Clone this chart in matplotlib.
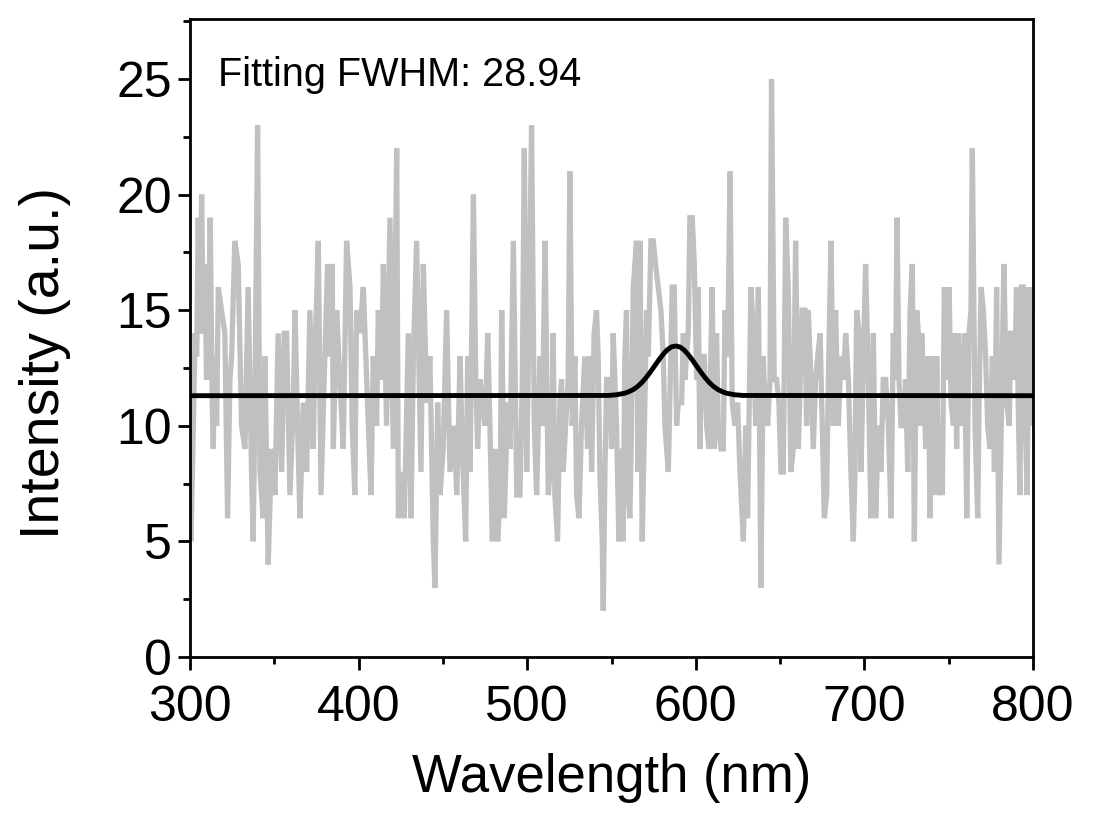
import matplotlib
matplotlib.use('Agg')
import matplotlib.pyplot as plt
from matplotlib.ticker import MultipleLocator

plt.rcParams['font.family'] = ['Liberation Sans', 'DejaVu Sans']

# raw spectrum (nm, counts)
wavelength = [
    300.0, 300.6, 302.0, 303.0, 304.0, 304.9, 306.0, 306.9, 307.9, 308.9, 309.8, 310.8,
    312.0, 313.2, 313.8, 314.8, 315.8, 316.8, 318.7, 320.7, 322.3, 323.7, 324.7, 326.6,
    328.6, 330.6, 332.6, 334.5, 336.5, 337.5, 338.5, 340.1, 341.5, 343.4, 344.4, 346.4,
    348.4, 350.4, 352.3,
    354.4, 355.9, 357.3, 359.3, 361.3, 362.3, 363.8, 365.2, 367.2, 369.2, 371.1, 373.1,
    374.1, 376.1, 377.7, 380.0, 381.6, 383.0, 384.4, 385.0, 387.0, 388.9, 390.9, 392.9,
    394.9, 396.2, 397.8, 398.8, 400.8, 402.8,
    405.8, 407.4, 408.7, 410.7, 411.7, 413.7, 414.7, 416.6, 418.6, 420.6, 422.6, 423.6,
    425.5, 427.1, 429.5, 431.1, 432.5, 434.4, 437.0, 438.4, 440.4, 442.3, 444.3, 445.3,
    446.9, 448.3, 450.2, 452.2, 454.2, 456.8,
    458.2, 460.2, 461.5, 463.5, 464.7, 466.1, 468.1, 469.5, 470.6, 472.0, 473.4, 475.0,
    476.6, 477.9, 479.3, 480.9, 482.5, 483.9, 484.9, 486.4, 488.4, 489.8, 491.8, 493.8,
    495.7, 497.1, 498.3, 499.7, 501.1, 502.6, 504.2, 505.6, 507.6, 509.0, 510.6,
    512.5, 514.5, 515.4, 516.4, 518.0, 519.4, 520.4, 521.4, 522.8, 524.3, 525.3, 526.7,
    528.3, 529.3, 530.7, 532.2, 534.2, 535.8, 537.2, 538.2, 539.7, 541.1, 542.1, 543.1,
    544.5, 545.1, 546.1, 547.1, 549.0, 550.0, 551.0, 552.0, 553.0, 554.4, 556.0, 556.9,
    557.9, 558.9, 559.9, 560.9, 561.9, 562.9, 563.9, 564.8, 565.8,
    566.9, 568.2, 569.8, 570.8, 571.8, 573.4, 574.8, 576.1, 577.7, 579.3, 580.7, 581.7,
    583.7, 586.0, 587.2, 588.6, 589.6, 591.6, 592.6, 593.5, 595.5, 596.5, 597.9, 599.1,
    600.5, 601.4, 602.4, 603.4, 605.0, 606.4, 607.8, 609.7, 610.9, 612.3, 613.3, 614.9,
    616.3, 617.3,
    618.9, 620.3, 621.6, 623.2, 624.8, 626.2, 628.2, 629.6, 630.7, 632.7, 634.1, 635.5,
    637.1, 638.6, 640.0, 641.0, 642.6, 644.0, 644.9, 646.5, 647.9, 649.3, 650.5, 651.9,
    653.3, 654.8, 656.4, 657.8, 659.2, 660.8, 662.4, 663.1, 664.7, 665.7, 666.7, 668.3,
    669.7, 671.0,
    672.3, 673.7, 675.0, 676.2, 677.6, 678.6, 680.2, 681.6, 682.9, 684.5, 686.1, 687.5,
    688.9, 690.5, 692.0, 693.4, 694.4, 695.4, 696.8, 698.0, 699.4, 700.7, 702.3, 703.9,
    705.3, 706.7, 708.2, 709.8, 711.2, 712.6, 714.2, 715.8, 717.1, 718.5, 719.3, 720.5,
    721.7, 723.1, 724.4,
    725.7, 727.1, 728.4, 729.6, 731.0, 732.0, 733.0, 734.0, 735.0, 736.4, 737.9, 738.9,
    739.9, 741.9, 742.9, 743.9, 745.4, 746.2, 747.4, 748.8, 750.2, 751.4, 752.8, 753.7,
    754.7, 755.7, 756.7, 758.1, 759.3, 760.7, 762.0, 763.2, 764.0, 765.6, 767.2, 768.0,
    769.2, 770.5, 771.9, 773.1, 774.5, 775.9, 777.1, 778.4, 779.8,
    782.7, 784.3, 785.9, 786.7, 788.2, 789.2, 790.2, 791.2, 792.2, 793.2, 794.2, 795.1,
    796.5, 797.7, 799.1, 800.0,
]
intensity = [
    9, 5, 10, 14, 13, 19, 14, 20, 14, 17, 12, 13,
    19, 11, 9, 13, 10, 16, 15, 14, 6, 12, 13, 18,
    17, 10, 9, 16, 8, 5, 11, 23, 8, 6, 13, 4,
    9, 7, 14,
    8, 14, 14, 7, 11, 15, 10, 6, 11, 8, 15, 9,
    13, 18, 7, 13, 17, 13, 17, 9, 15, 12, 9, 18,
    16, 10, 7, 15, 14, 16,
    10, 7, 13, 10, 15, 12, 17, 10, 19, 9, 22, 6,
    8, 6, 14, 6, 13, 18, 8, 17, 11, 13, 5, 3,
    11, 7, 9, 15, 8, 10,
    7, 13, 9, 5, 13, 8, 20, 12, 9, 12, 11, 10,
    14, 10, 5, 9, 5, 7, 15, 6, 11, 9, 18, 7,
    7, 12, 22, 8, 15, 23, 10, 7, 13, 10, 18,
    7, 9, 14, 7, 5, 11, 12, 8, 10, 12, 21, 10,
    13, 7, 6, 10, 13, 9, 13, 8, 14, 15, 13, 8,
    5, 2, 8, 12, 12, 9, 14, 12, 10, 5, 9, 5,
    13, 15, 7, 6, 10, 16, 17, 18, 8,
    18, 5, 11, 15, 13, 18, 18, 17, 16, 15, 13, 10,
    8, 16, 16, 10, 11, 11, 14, 12, 14, 19, 19, 17,
    12, 16, 9, 13, 13, 10, 9, 16, 9, 14, 10, 9,
    9, 15,
    13, 21, 11, 10, 11, 8, 5, 10, 6, 16, 14, 10,
    16, 3, 13, 11, 10, 12, 25, 12, 12, 11, 8, 8,
    19, 16, 8, 9, 18, 9, 13, 15, 15, 10, 15, 12,
    9, 12,
    13, 14, 10, 6, 7, 12, 18, 10, 15, 10, 13, 12,
    14, 12, 8, 5, 8, 15, 14, 8, 13, 17, 12, 6,
    14, 6, 10, 8, 12, 12, 10, 6, 14, 12, 19, 12,
    10, 10, 12,
    8, 15, 17, 5, 15, 14, 10, 14, 12, 9, 13, 6,
    13, 7, 13, 7, 8, 7, 16, 12, 16, 11, 10, 14,
    9, 14, 10, 11, 14, 6, 14, 15, 22, 10, 6, 11,
    16, 15, 13, 10, 9, 13, 8, 16, 4,
    17, 11, 10, 14, 14, 12, 16, 11, 7, 16, 16, 11,
    7, 16, 10, 14,
]

# Gaussian fit curve
fit_wl = [300, 548, 553, 558, 560.5, 563, 565.5, 568, 570.5, 573, 575.5, 578, 580.5,
          583, 585.5, 588, 590.5, 593, 595.5, 598, 600.5, 603, 605.5, 608, 610.5,
          613, 615.5, 618, 623, 628, 800]
fit_int = [11.3, 11.31, 11.34, 11.41, 11.48, 11.57, 11.70, 11.87, 12.08, 12.32, 12.58,
           12.84, 13.08, 13.28, 13.41, 13.45, 13.41, 13.28, 13.08, 12.84, 12.58, 12.32,
           12.08, 11.87, 11.70, 11.57, 11.48, 11.41, 11.34, 11.31, 11.3]

fig = plt.figure(figsize=(11.09, 8.16), dpi=100)
ax = fig.add_axes([0.1713, 0.195, 0.7602, 0.7818])

ax.plot(wavelength, intensity, color='#c0c0c0', lw=3.8, solid_joinstyle='miter', zorder=2)
ax.plot(fit_wl, fit_int, color='black', lw=3.5, zorder=3)

ax.set_xlim(300, 800)
ax.set_ylim(0, 27.6)
ax.xaxis.set_major_locator(MultipleLocator(100))
ax.xaxis.set_minor_locator(MultipleLocator(50))
ax.yaxis.set_major_locator(MultipleLocator(5))
ax.yaxis.set_minor_locator(MultipleLocator(2.5))
ax.tick_params(which='major', direction='out', length=9, width=2, labelsize=36, pad=4)
ax.tick_params(which='minor', direction='out', length=5, width=2)
ax.tick_params(axis='x', which='major', pad=11)
for s in ax.spines.values():
    s.set_linewidth(2)

ax.text(0.033, 0.912, 'Fitting FWHM: 28.94', transform=ax.transAxes,
        fontsize=28.5, va='center', ha='left')

ax.set_xlabel('Wavelength (nm)', fontsize=38, va='center')
ax.xaxis.set_label_coords(0.5, -0.19)
ax.set_ylabel('Intensity (a.u.)', fontsize=40, va='center')
ax.yaxis.set_label_coords(-0.172, 0.46)

fig.savefig('out.png', dpi=100)
